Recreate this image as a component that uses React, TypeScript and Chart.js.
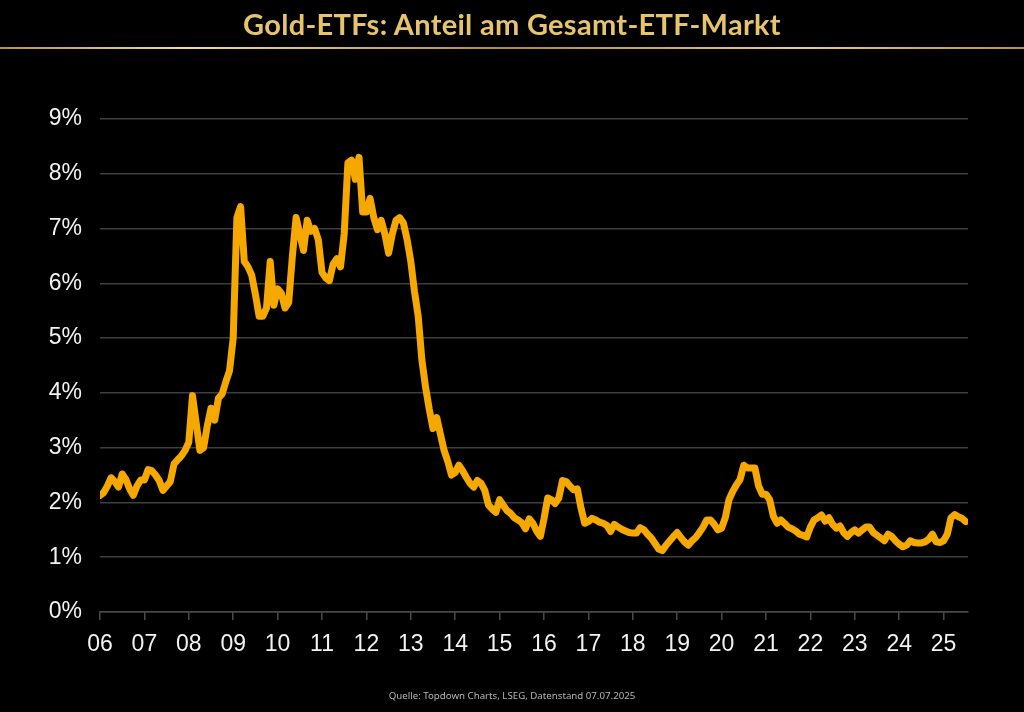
import React, { useEffect, useRef } from "react";
import { Chart, registerables } from "chart.js";

Chart.register(...registerables);

const TITLE = "Gold-ETFs: Anteil am Gesamt-ETF-Markt";
const SOURCE = "Quelle: Topdown Charts, LSEG, Datenstand 07.07.2025";

const START_YEAR = 2006;
const END_X = 2025.55;
const TICK_YEARS = [2006, 2007, 2008, 2009, 2010, 2011, 2012, 2013, 2014, 2015, 2016, 2017, 2018, 2019, 2020, 2021, 2022, 2023, 2024, 2025];
const Y_MIN = 0;
const Y_MAX = 9;

// Monthly share of gold ETFs in total ETF market (%), Jan..Dec per year
const share2006 = [2.13, 2.18, 2.3, 2.45, 2.38, 2.28, 2.52, 2.42, 2.25, 2.13, 2.3, 2.41];
const share2007 = [2.41, 2.6, 2.58, 2.5, 2.4, 2.22, 2.3, 2.38, 2.7, 2.78, 2.85, 2.95];
const share2008 = [3.1, 3.95, 3.45, 2.95, 3.0, 3.4, 3.72, 3.5, 3.9, 3.98, 4.2, 4.4];
const share2009 = [5.0, 7.2, 7.4, 6.4, 6.3, 6.15, 5.8, 5.4, 5.4, 5.55, 6.4, 5.6];
const share2010 = [5.9, 5.82, 5.55, 5.65, 6.5, 7.2, 6.9, 6.6, 7.15, 6.95, 7.0, 6.8];
const share2011 = [6.2, 6.1, 6.05, 6.35, 6.45, 6.3, 6.9, 8.2, 8.25, 7.9, 8.3, 7.3];
const share2012 = [7.3, 7.55, 7.2, 6.98, 7.15, 6.9, 6.55, 6.9, 7.15, 7.2, 7.1, 6.8];
const share2013 = [6.4, 5.85, 5.4, 4.6, 4.1, 3.7, 3.35, 3.55, 3.25, 2.95, 2.75, 2.5];
const share2014 = [2.55, 2.68, 2.58, 2.46, 2.35, 2.28, 2.4, 2.35, 2.22, 1.95, 1.88, 1.82];
const share2015 = [2.05, 1.95, 1.85, 1.8, 1.72, 1.68, 1.63, 1.52, 1.7, 1.62, 1.48, 1.38];
const share2016 = [1.7, 2.08, 2.05, 1.98, 2.08, 2.4, 2.38, 2.3, 2.23, 2.25, 1.9, 1.62];
const share2017 = [1.65, 1.71, 1.68, 1.64, 1.62, 1.58, 1.47, 1.6, 1.55, 1.51, 1.48, 1.45];
const share2018 = [1.44, 1.44, 1.54, 1.5, 1.42, 1.35, 1.25, 1.15, 1.12, 1.22, 1.3, 1.38];
const share2019 = [1.45, 1.36, 1.28, 1.22, 1.3, 1.36, 1.45, 1.55, 1.68, 1.68, 1.6, 1.5];
const share2020 = [1.53, 1.72, 2.05, 2.2, 2.32, 2.42, 2.68, 2.63, 2.63, 2.63, 2.3, 2.15];
const share2021 = [2.15, 2.05, 1.75, 1.62, 1.68, 1.62, 1.55, 1.52, 1.48, 1.42, 1.4, 1.37];
const share2022 = [1.55, 1.68, 1.72, 1.77, 1.66, 1.72, 1.6, 1.53, 1.57, 1.45, 1.38, 1.45];
const share2023 = [1.5, 1.44, 1.5, 1.55, 1.55, 1.45, 1.4, 1.35, 1.3, 1.42, 1.38, 1.3];
const share2024 = [1.24, 1.19, 1.22, 1.3, 1.27, 1.26, 1.26, 1.28, 1.33, 1.42, 1.28, 1.27];
const share2025 = [1.3, 1.42, 1.72, 1.78, 1.74, 1.71, 1.65];

const monthlyShare = [
  ...share2006, ...share2007, ...share2008, ...share2009, ...share2010,
  ...share2011, ...share2012, ...share2013, ...share2014, ...share2015,
  ...share2016, ...share2017, ...share2018, ...share2019, ...share2020,
  ...share2021, ...share2022, ...share2023, ...share2024, ...share2025,
];

export default function App() {
  const ref = useRef<HTMLCanvasElement | null>(null);

  useEffect(() => {
    if (!ref.current) return;
    const points = monthlyShare.map((v, i) => ({ x: START_YEAR + i / 12, y: v }));
    const chart = new Chart(ref.current, {
      type: "line",
      data: {
        datasets: [
          {
            data: points,
            borderColor: "#f5a800",
            borderWidth: 7,
            borderJoinStyle: "round",
            borderCapStyle: "round",
            pointRadius: 0,
            tension: 0,
            fill: false,
          },
        ],
      },
      options: {
        animation: false,
        responsive: false,
        devicePixelRatio: 1,
        layout: { padding: { left: 8, right: 56, top: 119, bottom: 0 } },
        plugins: { legend: { display: false }, tooltip: { enabled: false } },
        scales: {
          x: {
            type: "linear",
            min: START_YEAR,
            max: END_X,
            afterBuildTicks: (s: any) => {
              s.ticks = TICK_YEARS.map((y) => ({ value: y }));
            },
            afterFit: (s: any) => {
              s.height = 100;
            },
            ticks: {
              autoSkip: false,
              maxRotation: 0,
              color: "#f2f2f2",
              padding: 11,
              font: { family: "Liberation Sans", size: 23 },
              callback: (v: any) => String(Math.round(Number(v)) % 100).padStart(2, "0"),
            },
            grid: {
              drawOnChartArea: false,
              drawTicks: true,
              tickLength: 8,
              color: "#4a4a4a",
              lineWidth: 1.5,
            },
            border: { display: true, color: "#4a4a4a", width: 1.5 },
          },
          y: {
            min: Y_MIN,
            max: Y_MAX,
            afterFit: (s: any) => {
              s.width = 92;
            },
            ticks: {
              stepSize: 1,
              color: "#f2f2f2",
              padding: 18,
              font: { family: "Liberation Sans", size: 23 },
              callback: (v: any) => `${v}%`,
            },
            grid: { color: "#3e3e3e", lineWidth: 1.5, drawTicks: false },
            border: { display: false },
          },
        },
      },
    });
    return () => chart.destroy();
  }, []);

  return (
    <div
      style={{
        position: "fixed",
        left: 0,
        top: 0,
        width: 1024,
        height: 712,
        background: "#000",
        overflow: "hidden",
      }}
    >
      <canvas ref={ref} width={1024} height={712} style={{ position: "absolute", left: 0, top: 0 }} />
      <div
        style={{
          position: "absolute",
          left: 0,
          top: 6,
          width: 1024,
          textAlign: "center",
          fontFamily: "Lato, 'Noto Sans', sans-serif",
          fontWeight: 700,
          fontSize: 29,
          letterSpacing: 0.3,
          lineHeight: "36px",
          color: "#e6c46e",
        }}
      >
        {TITLE}
      </div>
      <div
        style={{
          position: "absolute",
          left: 0,
          top: 47,
          width: 1024,
          height: 2,
          background:
            "linear-gradient(90deg, #b8933e 0%, #f3dc95 18%, #b08a34 50%, #e9cd7d 78%, #b8933e 100%)",
        }}
      />
      <div
        style={{
          position: "absolute",
          left: 0,
          top: 689,
          width: 1024,
          textAlign: "center",
          fontFamily: "'Noto Sans', sans-serif",
          fontSize: 9.7,
          color: "#b5b5b5",
        }}
      >
        {SOURCE}
      </div>
    </div>
  );
}
